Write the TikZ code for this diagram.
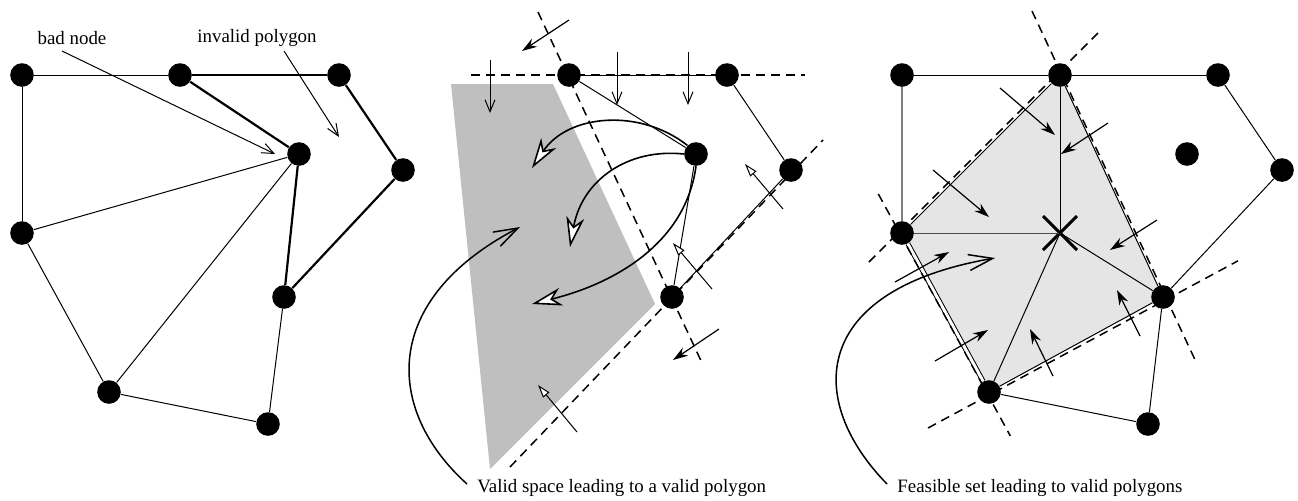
\documentclass[tikz,border=0pt]{standalone}
\usepackage{fontspec}
\setmainfont{Liberation Serif}
\usetikzlibrary{arrows.meta,shapes.misc}
\pgfdeclarelayer{background}
\pgfsetlayers{background,main}
\begin{document}
\begin{tikzpicture}[x=0.5pt,y=-0.5pt,
  dot/.style={circle,fill=black,inner sep=0pt,minimum size=11.8pt},
  thinedge/.style={line width=0.5pt},
  thickedge/.style={line width=1.1pt},
  grayedge/.style={line width=0.6pt,draw=black!50},
  dashln/.style={line width=0.75pt,dash pattern=on 4.5pt off 3pt},
  fillarr/.style={line width=0.6pt,-{Stealth[length=7.5pt,width=4.8pt]}},
  barbarr/.style={line width=0.5pt,-{Straight Barb[length=6pt,width=5pt]}},
  triarr/.style={line width=0.5pt,-{Triangle[fill=white,length=6.5pt,width=4pt]}},
  bigarr/.style={line width=0.8pt,-{Stealth[fill=white,length=15pt,width=9pt,inset=4.5pt]}},
  callarr/.style={line width=0.75pt,-{Straight Barb[length=12pt,width=8pt]}},
  lbl/.style={font=\fontsize{9.45}{11}\selectfont,inner sep=1pt},
  crossmark/.style={cross out,draw,line width=1.5pt,minimum size=15.5pt,inner sep=0pt}
]
\path[use as bounding box] (0,0) rectangle (1298,500);

%================ LEFT PANEL ================
\node[dot] (A) at (22,75) {};
\node[dot] (B) at (180,75) {};
\node[dot] (C) at (339,75) {};
\node[dot] (D) at (299,154) {};
\node[dot] (E) at (403,170) {};
\node[dot] (F) at (22,233) {};
\node[dot] (G) at (284,297) {};
\node[dot] (H) at (109,392) {};
\node[dot] (I) at (268,424) {};

\draw[thinedge] (A) -- (B);
\draw[thickedge] (B) -- (C);
\draw[thickedge] (C) -- (E);
\draw[thickedge] (E) -- (G);
\draw[thickedge] (B) -- (D);
\draw[thickedge] (D) -- (G);
\draw[thinedge] (A) -- (F);
\draw[thinedge] (F) -- (D);
\draw[thinedge] (F) -- (H);
\draw[thinedge] (H) -- (D);
\draw[thinedge] (H) -- (I);
\draw[thinedge] (I) -- (G);

\node[lbl] (badlbl) at (72,38) {bad node};
\node[lbl] (invlbl) at (257,38) {invalid polygon};
\coordinate (badS) at (62,51);
\coordinate (badT) at (275,154);
\coordinate (invS) at (284,51);
\coordinate (invT) at (339,137);
\draw[barbarr] (badS) -- (badT);
\draw[barbarr] (invS) -- (invT);

%================ MIDDLE PANEL ================
\begin{pgfonlayer}{background}
\fill[black!25] (451,84) -- (553,84) -- (655,304) -- (490,469) -- cycle;
\end{pgfonlayer}

\node[dot] (M1) at (569,75) {};
\node[dot] (M2) at (727,75) {};
\node[dot] (M3) at (696,154) {};
\node[dot] (M4) at (791,170) {};
\node[dot] (M5) at (672,297) {};

\draw[thinedge] (M1) -- (M2);
\draw[thinedge] (M1) -- (M3);
\draw[thinedge] (M2) -- (M4);
\draw[thinedge] (M3) -- (M5);
\draw[thinedge] (M5) -- (M4);

\coordinate (hA) at (471,75);
\coordinate (hB) at (805,75);
\coordinate (dA) at (538,12);
\coordinate (dB) at (703,365);
\coordinate (eA) at (510,467);
\coordinate (eB) at (823,140);
\draw[dashln] (hA) -- (hB);
\draw[dashln] (dA) -- (dB);
\draw[dashln] (eA) -- (eB);

% normals of the horizontal line
\coordinate (v1s) at (490,60);  \coordinate (v1t) at (490,113);
\coordinate (v2s) at (617,52);  \coordinate (v2t) at (617,105);
\coordinate (v3s) at (688,52);  \coordinate (v3t) at (688,105);
\draw[barbarr] (v1s) -- (v1t);
\draw[barbarr] (v2s) -- (v2t);
\draw[barbarr] (v3s) -- (v3t);
% normals of the M1-M5 line
\coordinate (f1s) at (569,20);  \coordinate (f1t) at (522,51);
\coordinate (f2s) at (719,329); \coordinate (f2t) at (673,360);
\draw[fillarr] (f1s) -- (f1t);
\draw[fillarr] (f2s) -- (f2t);
% normals of the M5-M4 line
\coordinate (t1s) at (783,209); \coordinate (t1t) at (745,164);
\coordinate (t2s) at (712,289); \coordinate (t2t) at (673,243);
\coordinate (t3s) at (577,432); \coordinate (t3t) at (538,385);
\draw[triarr] (t1s) -- (t1t);
\draw[triarr] (t2s) -- (t2t);
\draw[triarr] (t3s) -- (t3t);

% big moves of M3
\coordinate (b1) at (532,168);
\coordinate (b2) at (570,247);
\coordinate (b3) at (532,304);
\draw[bigarr] (M3.north west) .. controls (640,108) and (568,114) .. (b1);
\draw[bigarr] (M3.west) .. controls (628,148) and (582,180) .. (b2);
\draw[bigarr] (M3.south) .. controls (686,240) and (620,282) .. (b3);

\node[lbl,anchor=west] (vlbl) at (475,488) {Valid space leading to a valid polygon};
\coordinate (vT) at (520,227);
\draw[callarr] ([xshift=-4pt,yshift=2pt]vlbl.west) .. controls (385,410) and (380,300) .. (vT);

%================ RIGHT PANEL ================
\node[dot] (R1) at (902,75) {};
\node[dot] (R2) at (1060,75) {};
\node[dot] (R3) at (1218,75) {};
\node[dot] (R4) at (1187,154) {};
\node[dot] (R5) at (1282,170) {};
\node[dot] (R6) at (902,233) {};
\node[dot] (R7) at (1163,297) {};
\node[dot] (R8) at (989,392) {};
\node[dot] (R9) at (1148,424) {};
\node[crossmark] (X) at (1060,233) {};

\begin{pgfonlayer}{background}
\fill[black!10] (R2.center) -- (R7.center) -- (R8.center) -- (R6.center) -- cycle;
\end{pgfonlayer}

\draw[thinedge] (R1) -- (R2);
\draw[thinedge] (R2) -- (R3);
\draw[thinedge] (R3) -- (R5);
\draw[thinedge] (R5) -- (R7);
\draw[grayedge] (R1) -- (R6);
\draw[thinedge,draw=black!70] (R6) -- (X.center);
\draw[thinedge] (R2) -- (X.center);
\draw[thinedge] (X.center) -- (R8);
\draw[thinedge] (X.center) -- (R7);
\draw[thinedge] (R6) -- (R2);
\draw[thinedge] (R2) -- (R7);
\draw[thinedge,double,double distance=1.5pt] (R6) -- (R8);
\draw[thinedge] (R8) -- (R7);
\draw[thinedge] (R8) -- (R9);
\draw[thinedge] (R9) -- (R7);

\coordinate (L1a) at (1032,11);   \coordinate (L1b) at (1197,364);
\coordinate (L2a) at (1098,33);   \coordinate (L2b) at (868,263);
\coordinate (L3a) at (878.3,193.9); \coordinate (L3b) at (1010.3,435.9);
\coordinate (L4a) at (928,428);   \coordinate (L4b) at (1238,260.8);
\draw[dashln] (L1a) -- (L1b);
\draw[dashln] (L2a) -- (L2b);
\draw[dashln] (L3a) -- (L3b);
\draw[dashln] (L4a) -- (L4b);

\coordinate (a1s) at (1000,88);  \coordinate (a1t) at (1055,135);
\coordinate (a2s) at (1108,123); \coordinate (a2t) at (1061,154);
\coordinate (a3s) at (933,170);  \coordinate (a3t) at (989,217);
\coordinate (a4s) at (1157,220); \coordinate (a4t) at (1110,250);
\coordinate (a5s) at (895,282);  \coordinate (a5t) at (949,252);
\coordinate (a6s) at (935,361);  \coordinate (a6t) at (988,330);
\coordinate (a7s) at (1053,376); \coordinate (a7t) at (1030,329);
\coordinate (a8s) at (1140,336); \coordinate (a8t) at (1117,290);
\draw[fillarr] (a1s) -- (a1t);
\draw[fillarr] (a2s) -- (a2t);
\draw[fillarr] (a3s) -- (a3t);
\draw[fillarr] (a4s) -- (a4t);
\draw[fillarr] (a5s) -- (a5t);
\draw[fillarr] (a6s) -- (a6t);
\draw[fillarr] (a7s) -- (a7t);
\draw[fillarr] (a8s) -- (a8t);

\node[lbl,anchor=west] (flbl) at (895,488) {Feasible set leading to valid polygons};
\coordinate (fT) at (995,258);
\draw[callarr] ([xshift=-4pt,yshift=2pt]flbl.west) .. controls (805,400) and (810,290) .. (fT);
\end{tikzpicture}
\end{document}
